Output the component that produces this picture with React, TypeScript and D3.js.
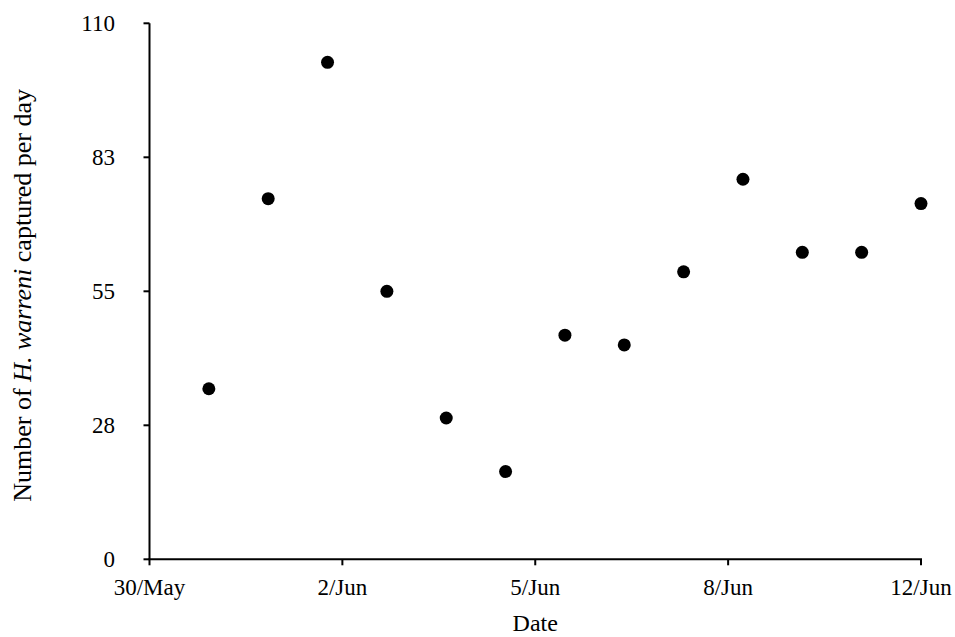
import React from "react";
import * as d3 from "d3";

const dates: string[] = [
  "2019-05-31", "2019-06-01", "2019-06-02", "2019-06-03", "2019-06-04",
  "2019-06-05", "2019-06-06", "2019-06-07", "2019-06-08", "2019-06-09",
  "2019-06-10", "2019-06-11", "2019-06-12",
];
const counts: number[] = [35, 74, 102, 55, 29, 18, 46, 44, 59, 78, 63, 63, 73];

const xTickLabels: string[] = ["30/May", "2/Jun", "5/Jun", "8/Jun", "12/Jun"];
const yTickValues: number[] = [0, 27.5, 55, 82.5, 110];
const yTickLabels: string[] = ["0", "28", "55", "83", "110"];

const W = 955;
const H = 637;
const left = 149.5;
const right = 921;
const top = 23.3;
const bottom = 559.3;
const FONT = "'Liberation Serif', 'Times New Roman', serif";

export default function App() {
  const parse = d3.utcParse("%Y-%m-%d");
  const start = parse("2019-05-30") as Date;
  const end = parse("2019-06-12") as Date;
  const x = d3.scaleUtc().domain([start, end]).range([left, right]);
  const y = d3.scaleLinear().domain([0, 110]).range([bottom, top]);

  // Excel-style evenly spaced date ticks (4 equal intervals)
  const span = end.getTime() - start.getTime();
  const xTicks = xTickLabels.map((label, i) => ({
    label,
    pos: x(new Date(start.getTime() + (span * i) / (xTickLabels.length - 1))),
  }));

  const pts = dates.map((d, i) => ({ x: x(parse(d) as Date), y: y(counts[i]) }));

  return (
    <svg
      width={W}
      height={H}
      style={{ position: "absolute", left: 0, top: 0, background: "#fff" }}
      fontFamily={FONT}
    >
      <rect width={W} height={H} fill="#fff" />
      <line x1={left} x2={left} y1={top} y2={bottom} stroke="#000" strokeWidth={2} />
      <line x1={left - 1} x2={right + 1} y1={bottom} y2={bottom} stroke="#000" strokeWidth={2} />
      {yTickValues.map((v, i) => (
        <g key={"y" + i}>
          <line x1={left - 6} x2={left} y1={y(v)} y2={y(v)} stroke="#000" strokeWidth={2} />
          <text
            x={115}
            y={y(v)}
            dy="0.35em"
            textAnchor="end"
            fontSize={23}
            fill="#000"
          >
            {yTickLabels[i]}
          </text>
        </g>
      ))}
      {xTicks.map((t, i) => (
        <g key={"x" + i}>
          <line x1={t.pos} x2={t.pos} y1={bottom} y2={bottom + 6} stroke="#000" strokeWidth={2} />
          <text x={t.pos} y={595} textAnchor="middle" fontSize={23} fill="#000">
            {t.label}
          </text>
        </g>
      ))}
      {pts.map((p, i) => (
        <circle key={"p" + i} cx={p.x} cy={p.y} r={6.5} fill="#000" />
      ))}
      <text x={(left + right) / 2} y={631} textAnchor="middle" fontSize={24} fill="#000">
        Date
      </text>
      <text
        transform={`translate(31, ${(top + bottom) / 2 + 4}) rotate(-90)`}
        textAnchor="middle"
        fontSize={26}
        fill="#000"
      >
        Number of <tspan fontStyle="italic">H. warreni</tspan> captured per day
      </text>
    </svg>
  );
}
